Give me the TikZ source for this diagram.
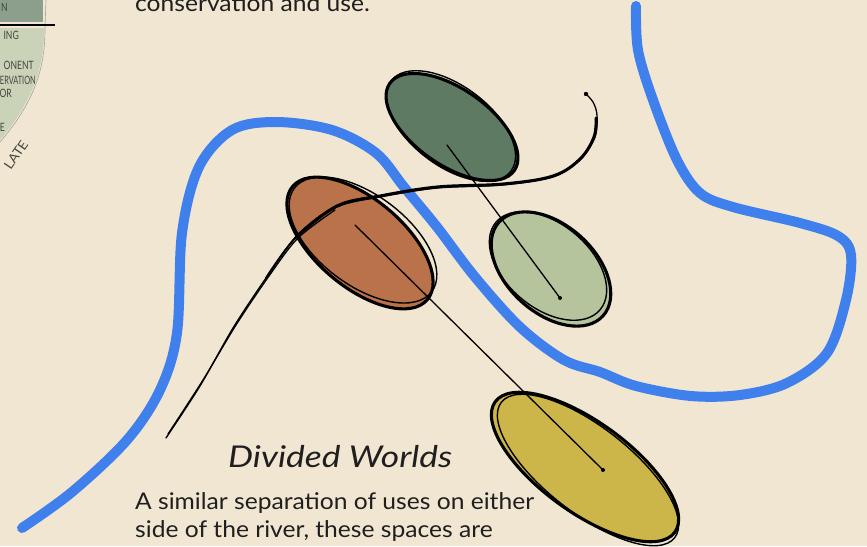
\documentclass[tikz,border=0pt]{standalone}
\usepackage{fontspec}
\setmainfont{Lato}[FakeStretch=1.07]
\newfontfamily\headfont{Lato}[FakeStretch=1.18]
\usetikzlibrary{positioning}
\definecolor{paper}{RGB}{241,230,210}
\definecolor{river}{RGB}{64,128,236}
\definecolor{forest}{RGB}{94,122,99}
\definecolor{sage}{RGB}{181,196,156}
\definecolor{clay}{RGB}{185,114,74}
\definecolor{mustard}{RGB}{204,182,74}
\definecolor{band}{RGB}{140,158,140}
\definecolor{palegreen}{RGB}{202,210,184}
\definecolor{pencil}{RGB}{70,70,62}

\begin{document}
\begin{tikzpicture}[x=1pt,y=-1pt,
    riverline/.style={line width=10pt, river, line cap=round, line join=round},
    inkline/.style={line width=3pt, line cap=round, line join=round},
    midink/.style={line width=2pt, line cap=round, line join=round},
    thinink/.style={line width=1.3pt, line cap=round, line join=round},
    rim/.style={line width=3.1pt},
    rimtwo/.style={line width=1.4pt},
    scrawl/.style={inner sep=0pt, text=pencil, font=\fontsize{11.5}{11.5}\selectfont},
    bodytext/.style={anchor=base west, inner sep=0pt, text=black!88, font=\fontsize{23}{28}\selectfont}]

    \useasboundingbox (0,0) rectangle (867,546);
    \fill[paper] (0,0) rectangle (867,546);
    \clip (0,0) rectangle (867,546);

    % corner of the wheel, top left
    \fill[palegreen] (0,28) -- (44,28) .. controls (44,60) and (38,95) .. (0,140) -- cycle;
    \draw[pencil!50, line width=0.6pt] (46,0) -- (45,28) .. controls (45,61) and (39,97) .. (0,142);
    \fill[band] (0,0) rectangle (43,22);
    \draw[line width=1.2pt] (0,25) -- (55,25);
    \node[scrawl, anchor=base east] (wn) at (8,12) {\scalebox{0.7}[1]{N}};
    \node[scrawl, anchor=base east] (wing) at (19,39) {\scalebox{0.7}[1]{ING}};
    \node[scrawl, anchor=base east] (wonent) at (34,69) {\scalebox{0.7}[1]{ONENT}};
    \node[scrawl, anchor=base east] (wervation) at (36,84) {\scalebox{0.6}[1]{ERVATION}};
    \node[scrawl, anchor=base east] (wor) at (12,97) {\scalebox{0.7}[1]{OR}};
    \node[scrawl, anchor=base east] (we) at (5,131) {\scalebox{0.7}[1]{E}};
    \node[scrawl, rotate=56, font=\fontsize{13}{13}\selectfont] (wlate) at (16,155) {LATE};

    % the river
    \draw[riverline] plot[smooth, tension=0.55] coordinates {
        (22,528) (72,492) (127,440) (160,390) (177,333) (182,233) (199,167)
        (232,130) (276,122) (332,130) (376,153) (404,187) (437,227) (475,277)
        (520,327) (564,360) (600,372) (636,386) (691,396) (740,395) (787,383)
        (827,353) (846,300) (851,255) (838,236) (800,223) (733,207) (700,193)
        (677,160) (653,100) (638,50) (636,6)};

    % places along it
    \fill[forest, rotate around={-35:(452,127)}] (452,127) ellipse [x radius=76, y radius=38];
    \draw[rim, rotate around={-35:(452,127)}] (452,127) ellipse [x radius=76, y radius=38];
    \draw[rimtwo, rotate around={-37:(451,126)}] (451,126) ellipse [x radius=75, y radius=40];

    \fill[sage, rotate around={-42:(551,269)}] (551,269) ellipse [x radius=70, y radius=44];
    \draw[rim, rotate around={-42:(551,269)}] (551,269) ellipse [x radius=70, y radius=44];
    \draw[rimtwo, rotate around={-40:(548,266)}] (548,266) ellipse [x radius=68, y radius=42];

    \fill[clay, rotate around={-40:(360,243)}] (360,243) ellipse [x radius=88, y radius=44];
    \draw[rim, rotate around={-40:(360,243)}] (360,243) ellipse [x radius=88, y radius=44];
    \draw[rimtwo, rotate around={-37:(363,240)}] (363,240) ellipse [x radius=86, y radius=45];

    \fill[mustard, rotate around={-36:(585,467)}] (585,467) ellipse [x radius=111, y radius=45];
    \draw[rim, rotate around={-36:(585,467)}] (585,467) ellipse [x radius=111, y radius=45];
    \draw[rimtwo, rotate around={-38:(588,470)}] (588,470) ellipse [x radius=110, y radius=43];

    % links between the places
    \coordinate (fa) at (447,145);
    \coordinate (fb) at (560,298);
    \coordinate (ca) at (355,225);
    \coordinate (cb) at (603,470);
    \draw[thinink] (fa) -- (fb);
    \fill (fb) circle (2);
    \draw[thinink] (ca) -- (cb);
    \fill (cb) circle (2);

    % the long stroke, drawn twice over
    \draw[thinink] plot[smooth, tension=0.5] coordinates {
        (166,438) (200,386) (233,328) (266,278) (297,236) (337,207) (380,197) (437,188)
        (503,185) (553,177) (580,160) (595,137) (597,115) (593,102) (585,93)};
    \draw[thinink] plot[smooth, tension=0.5] coordinates {
        (168,434) (203,380) (236,325) (269,276) (298,238) (335,210)};
    \draw[midink] plot[smooth, tension=0.6] coordinates {
        (266,278) (297,236) (337,206) (380,196)};
    \draw[inkline] plot[smooth, tension=0.6] coordinates {
        (297,236) (337,206) (380,196) (437,187)
        (503,184) (553,176) (580,159) (594,137) (596,118)};
    \fill (586,94) circle (2.2);

    % caption
    \node[anchor=base west, inner sep=0pt, text=black!88, font=\fontsize{30}{30}\headfont\itshape] (title) at (228,467) {Divided Worlds};
    \node[bodytext] (lineone) at (135,509) {A similar separation of uses on either};
    \node[bodytext] (linetwo) at (135,537) {side of the river, these spaces are};
    \node[bodytext] (lineup) at (135,12) {conservation and use.};

\end{tikzpicture}
\end{document}
